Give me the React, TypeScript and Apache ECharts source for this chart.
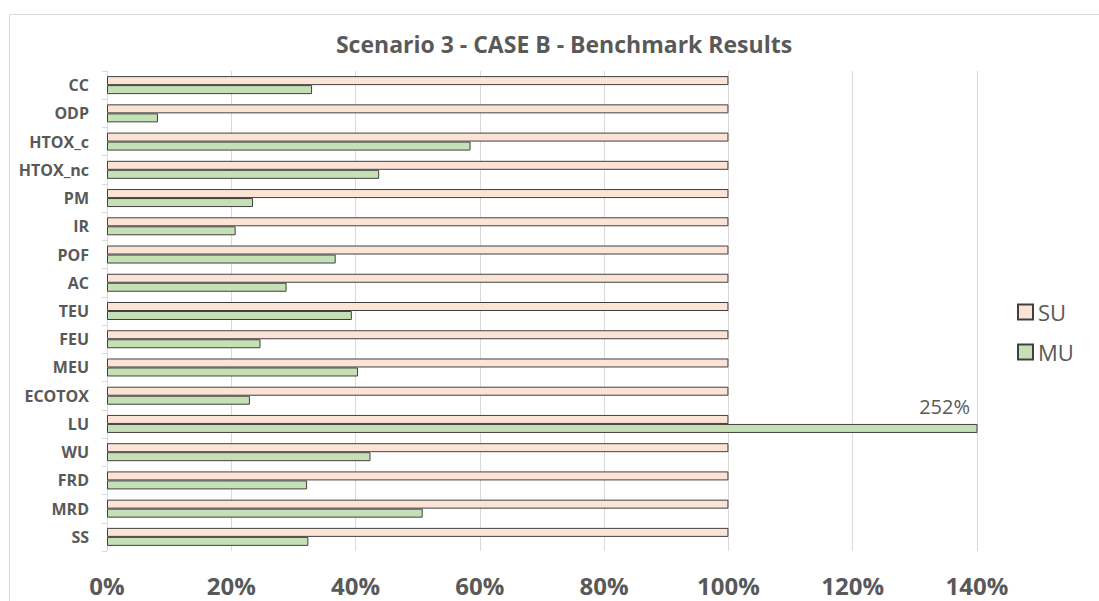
import React, { useEffect, useRef } from 'react';
import * as echarts from 'echarts';

const titleText = 'Scenario 3 - CASE B - Benchmark Results';
const categories = ['CC', 'ODP', 'HTOX_c', 'HTOX_nc', 'PM', 'IR', 'POF', 'AC', 'TEU', 'FEU', 'MEU', 'ECOTOX', 'LU', 'WU', 'FRD', 'MRD', 'SS'];
const suValues = [1, 1, 1, 1, 1, 1, 1, 1, 1, 1, 1, 1, 1, 1, 1, 1, 1];
const muValues = [0.33, 0.082, 0.585, 0.438, 0.235, 0.207, 0.368, 0.289, 0.394, 0.247, 0.404, 0.23, 2.52, 0.424, 0.322, 0.508, 0.324];
const xMin = 0;
const xMax = 1.4;
const xInterval = 0.2;
const overflowCategory = 'LU';
const overflowLabel = '252%';

const FONT = '"Open Sans", "Noto Sans", sans-serif';
const GRAY = '#595959';
const BORDER = '#404040';

export default function App() {
  const ref = useRef<HTMLDivElement>(null);
  useEffect(() => {
    if (!ref.current) return;
    const chart = echarts.init(ref.current, null, { renderer: 'svg' });
    const frame = {
      type: 'rect',
      z: -10,
      silent: true,
      shape: { x: 9.5, y: 14.5, width: 1200, height: 700 },
      style: { fill: 'none', stroke: '#d9d9d9', lineWidth: 1 },
    };
    chart.setOption({
      animation: false,
      backgroundColor: '#ffffff',
      title: {
        text: titleText,
        left: 559,
        top: 27,
        textAlign: 'center',
        textStyle: { fontFamily: FONT, fontSize: 23, fontWeight: 'bold', color: GRAY },
      },
      legend: {
        orient: 'vertical',
        left: 1012,
        top: 296,
        itemWidth: 15,
        itemHeight: 15,
        itemGap: 18,
        icon: 'rect',
        textStyle: { fontFamily: FONT, fontSize: 22, color: GRAY },
        data: ['SU', 'MU'],
      },
      grid: { left: 107, right: 122, top: 71, bottom: 50, containLabel: false },
      xAxis: {
        type: 'value',
        min: xMin,
        max: xMax,
        interval: xInterval,
        axisLine: { show: false },
        axisTick: { show: false },
        splitLine: { lineStyle: { color: '#d9d9d9', width: 1 } },
        axisLabel: {
          margin: 22,
          fontFamily: FONT,
          fontSize: 24,
          fontWeight: 'bold',
          color: GRAY,
          formatter: (v: number) => Math.round(v * 100) + '%',
        },
      },
      yAxis: {
        type: 'category',
        inverse: true,
        data: categories,
        axisLine: { show: true, lineStyle: { color: '#d9d9d9', width: 1 } },
        axisTick: { show: true, length: 5, lineStyle: { color: '#d9d9d9' } },
        axisLabel: {
          margin: 18,
          fontFamily: FONT,
          fontSize: 16,
          fontWeight: 'bold',
          color: GRAY,
        },
      },
      series: [
        {
          name: 'SU',
          type: 'bar',
          data: suValues,
          barWidth: 9,
          barGap: '0%',
          itemStyle: { color: '#FBE3D6', borderColor: BORDER, borderWidth: 1 },
        },
        {
          name: 'MU',
          type: 'bar',
          data: muValues,
          barWidth: 9,
          barGap: '0%',
          itemStyle: { color: '#C5E0B4', borderColor: BORDER, borderWidth: 1 },
        },
      ],
      graphic: [frame],
    });
    const p = chart.convertToPixel({ gridIndex: 0 }, [xMax, overflowCategory]) as number[];
    if (p) {
      chart.setOption({
        graphic: [
          frame,
          {
            type: 'text',
            x: p[0] - 7,
            y: p[1] - 7,
            style: {
              text: overflowLabel,
              fontFamily: FONT,
              fontSize: 20,
              fill: GRAY,
              textAlign: 'right',
              textVerticalAlign: 'bottom',
            },
          },
        ],
      });
    }
    return () => chart.dispose();
  }, []);
  return <div ref={ref} style={{ position: 'fixed', left: 0, top: 0, width: 1099, height: 601 }} />;
}
